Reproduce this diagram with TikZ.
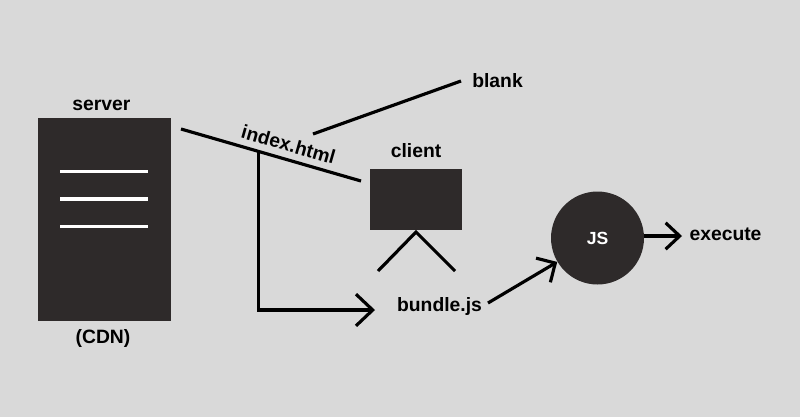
\documentclass[tikz,border=0pt]{standalone}
\usepackage{fontspec}
\setmainfont{Liberation Sans}
\usepackage{xcolor}
\usetikzlibrary{arrows.meta}
\definecolor{bgGray}{HTML}{D9D9D9}
\definecolor{boxDark}{HTML}{2E2A2A}
\tikzset{
  lbl/.style={inner sep=0pt,font=\fontsize{11}{13}\selectfont\bfseries,text=black},
  boxfill/.style={fill=boxDark,inner sep=0pt},
  conn/.style={line width=1.8pt,black},
}
\begin{document}
\begin{tikzpicture}[x=0.02cm,y=-0.02cm]
\useasboundingbox[fill=bgGray] (0,0) rectangle (800,417);
\node[boxfill,minimum width=2.67cm,minimum height=4.06cm] (server) at (104.25,219.5) {};
\node[boxfill,minimum width=1.84cm,minimum height=1.22cm] (client) at (416,199.5) {};
\node[boxfill,circle,minimum size=1.86cm,text=white,font=\fontsize{10}{12}\selectfont\bfseries] (js) at (597.5,238) {JS};
\node[lbl] (serverlbl) at (101.5,105.5) {server};
\node[lbl] (cdn) at (103,338) {(CDN)};
\node[lbl] (clientlbl) at (416,151) {client};
\node[lbl] (blank) at (497.5,81) {blank};
\node[lbl] (bundle) at (439.5,306.5) {bundle.js};
\node[lbl] (execute) at (725.5,234.5) {execute};
\node[lbl,rotate=-16] (index) at (288.5,144.5) {index.html};
% server lines
\foreach \y in {171.5,199,226.5}
  \draw[white,line width=1.8pt] (60,\y) -- (148,\y);
% client legs
\coordinate (legl) at (378,271);
\coordinate (legtop) at (416,232);
\coordinate (legr) at (455,271);
\draw[conn] (legl) -- (legtop) -- (legr);
% index.html
\coordinate (srvout) at (181,129);
\coordinate (cliin) at (361,181);
\coordinate (blankfrom) at (313,134);
\coordinate (blankto) at (461,81);
\coordinate (branch) at (258.5,151.5);
\coordinate (bundlein) at (375,310);
\draw[conn] (srvout) -- (cliin);
\draw[conn] (blankfrom) -- (blankto);
\draw[conn,-{Straight Barb[length=9.5pt,width=18pt]}] (branch) |- (bundlein);
% bundle.js
\coordinate (bundleout) at (488,303);
\coordinate (exectip) at (682,236);
\draw[conn,-{Straight Barb[length=8pt,width=16pt]}] (bundleout) -- (js);
\draw[conn,-{Straight Barb[length=8pt,width=15pt]}] (js.east |- exectip) -- (exectip);
\end{tikzpicture}
\end{document}
